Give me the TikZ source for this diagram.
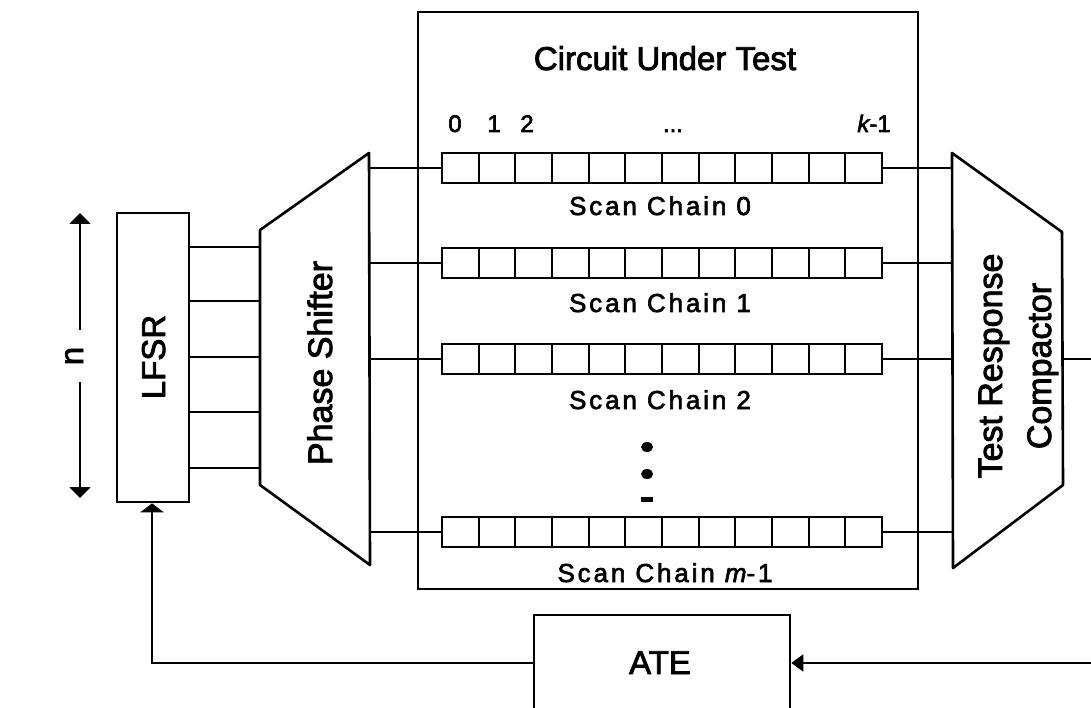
\documentclass[tikz,border=0pt]{standalone}
\usepackage{fontspec}
\setmainfont[FakeBold=2.5]{Liberation Sans}
\newfontfamily\spacedsans[LetterSpace=11,FakeBold=2.5]{Liberation Sans}
\usetikzlibrary{arrows.meta}
\begin{document}
\begin{tikzpicture}[x=1pt,y=-1pt,
  box/.style={draw,line width=2.6pt,inner sep=0pt},
  cell/.style={draw,line width=2pt,minimum width=36.67pt,minimum height=30pt,inner sep=0pt,anchor=west},
  wire/.style={line width=2pt},
  big/.style={font=\fontsize{33}{40}\selectfont,inner sep=0pt},
  bigger/.style={font=\fontsize{34}{40}\selectfont,inner sep=0pt},
  lab/.style={font=\spacedsans\fontsize{26}{30}\selectfont,inner sep=0pt,anchor=base},
  num/.style={font=\fontsize{24}{28}\selectfont,inner sep=0pt,anchor=base},
  ntip/.style={-{Triangle[length=11pt,width=21pt]}},
  ltip/.style={-{Triangle[length=9pt,width=23pt]}},
  atip/.style={-{Triangle[length=12pt,width=17pt]}}
]
\useasboundingbox (0,0) rectangle (1091,708);

% LFSR
\node[box,minimum width=72pt,minimum height=289pt] (lfsr) at (153,357.5) {};
\node[big,rotate=90,anchor=base] (lfsrt) at (165,357) {LFSR};

% n dimension arrow
\node[big,rotate=90,anchor=base] (nlab) at (83,356) {n};
\coordinate (nA) at (80,213);
\coordinate (nB) at (80,330);
\coordinate (nC) at (80,382);
\coordinate (nD) at (80,498);
\draw[wire,ntip] (nB) -- (nA);
\draw[wire,ntip] (nC) -- (nD);

% Phase shifter
\coordinate (ps1) at (260,230);
\coordinate (ps2) at (369,153);
\coordinate (ps3) at (370,565);
\coordinate (ps4) at (260,485);
\draw[line width=2.6pt,line join=round] (ps1) -- (ps2) -- (ps3) -- (ps4) -- cycle;
\node[bigger,rotate=90,anchor=base] (pst) at (332,363) {Phase Shifter};

% LFSR outputs
\foreach \i/\y in {1/247,2/301,3/357,4/412,5/468} {
  \coordinate (lo\i) at (0,\y);
  \draw[wire] (lfsr.east |- lo\i) -- (ps1 |- lo\i);
}

% Circuit under test
\node[draw,line width=2.8pt,minimum width=500pt,minimum height=577pt,inner sep=0pt] (cut) at (668,300.5) {};
\node[big,anchor=base] (title) at (665,70) {Circuit Under Test};

% cell indices
\node[num] (i0) at (455,132) {0};
\node[num] (i1) at (494,132) {1};
\node[num] (i2) at (527,132) {2};
\node[num] (idots) at (673,132) {...};
\node[num] (ik) at (874,132) {\itshape k\upshape -1};

% Test response compactor
\coordinate (cr1) at (952,153);
\coordinate (cr2) at (1062,232);
\coordinate (cr3) at (1063,485);
\coordinate (cr4) at (953,568);
\draw[line width=2.6pt,line join=round] (cr1) -- (cr2) -- (cr3) -- (cr4) -- cycle;
\node[bigger,rotate=90,anchor=base] (crt1) at (1002,366) {Test Response};
\node[bigger,rotate=90,anchor=base] (crt2) at (1051,366) {Compactor};

% scan chains
\foreach \c/\y in {0/168,1/263,2/359,3/532} {
  \foreach \k in {0,...,11} {
    \node[cell] (c\c-\k) at ({441+\k*36.67},\y) {};
  }
  \draw[wire] (ps3 |- c\c-0.west) -- (c\c-0.west);
  \draw[wire] (c\c-11.east) -- (cr1 |- c\c-11.east);
}
\node[lab] (l0) at (660,215) {Scan Chain 0};
\node[lab] (l1) at (660,312) {Scan Chain 1};
\node[lab] (l2) at (660,409) {Scan Chain 2};
\node[lab] (l3) at (665,582) {Scan Chain {\itshape m}-1};

% vertical dots
\fill (647,447) ellipse (6pt and 5pt);
\fill (647,474) ellipse (6pt and 5pt);
\fill (641,496.5) rectangle (653,501.5);

% ATE
\node[box,minimum width=256pt,minimum height=96pt] (ate) at (662,663) {};
\node[big,anchor=base] (atet) at (660,674) {ATE};

% feedback connectors
\coordinate (crout) at (1063,359);
\coordinate (far) at (1098,0);
\draw[wire,atip] (crout) -| (far |- ate.east) -- (ate.east);
\draw[wire,ltip] (ate.west) -| ([xshift=-1pt]lfsr.south);
\end{tikzpicture}
\end{document}
